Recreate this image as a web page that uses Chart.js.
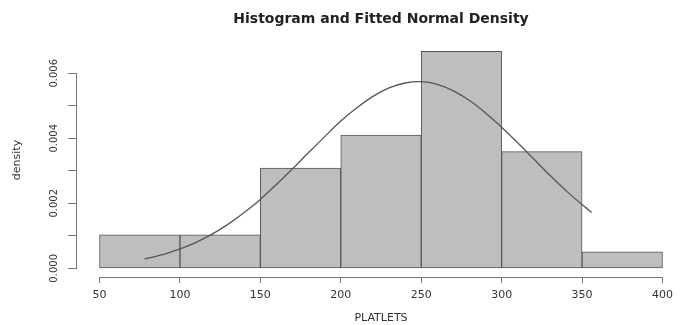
<!DOCTYPE html>
<html>
<head>
<meta charset="utf-8">
<script src="https://cdn.jsdelivr.net/npm/chart.js@4.4.1/dist/chart.umd.min.js"></script>
<style>
  html, body { margin: 0; padding: 0; background: #fff; }
</style>
</head>
<body>
<canvas id="histChart" width="686" height="325"></canvas>
<script>
// histogram bins (PLATLETS) and densities
const binMids = [75, 125, 175, 225, 275, 325, 375];
const densities = [0.00103, 0.00103, 0.00308, 0.0041, 0.00667, 0.00359, 0.00051];

// fitted normal density
const curveX = [78, 90, 100, 110, 120, 130, 140, 150, 160, 170, 180, 190, 200, 210, 220, 230,
  240, 250, 260, 270, 280, 290, 300, 310, 320, 330, 340, 350, 356];
const curveY = [0.00029, 0.00043, 0.0006, 0.0008, 0.00105, 0.00136, 0.00172, 0.00212, 0.00258,
  0.00306, 0.00356, 0.00405, 0.00453, 0.00494, 0.00529, 0.00555, 0.0057, 0.00574, 0.00566,
  0.00546, 0.00516, 0.00478, 0.00434, 0.00386, 0.00336, 0.00286, 0.00239, 0.00196, 0.00172];

const xTicks = [50, 100, 150, 200, 250, 300, 350, 400];
const yTicks = [0, 0.001, 0.002, 0.003, 0.004, 0.005, 0.006];
const yTickLabels = ["0.000", "0.002", "0.004", "0.006"];

const axisColor = "#777";
const textColor = "#333";

// R style axes: line only between first and last tick, rotated y labels
const rAxes = {
  id: "rAxes",
  afterDraw(chart) {
    const { ctx, chartArea } = chart;
    const x = chart.scales.x;
    const y = chart.scales.y;
    ctx.save();
    ctx.strokeStyle = axisColor;
    ctx.lineWidth = 1;
    ctx.beginPath();
    ctx.moveTo(x.getPixelForValue(xTicks[0]), chartArea.bottom + 0.5);
    ctx.lineTo(x.getPixelForValue(xTicks[xTicks.length - 1]), chartArea.bottom + 0.5);
    ctx.moveTo(chartArea.left - 0.5, y.getPixelForValue(yTicks[0]));
    ctx.lineTo(chartArea.left - 0.5, y.getPixelForValue(yTicks[yTicks.length - 1]));
    ctx.stroke();

    ctx.fillStyle = textColor;
    ctx.font = "10px 'DejaVu Sans'";
    ctx.textAlign = "center";
    ctx.textBaseline = "middle";
    yTickLabels.forEach((lab) => {
      ctx.save();
      ctx.translate(54, y.getPixelForValue(parseFloat(lab)));
      ctx.rotate(-Math.PI / 2);
      ctx.fillText(lab, 0, 0);
      ctx.restore();
    });
    ctx.restore();
  },
};

const ctx = document.getElementById("histChart").getContext("2d");

const histChart = new Chart(ctx, {
  type: "bar",
  data: {
    datasets: [
      {
        type: "line",
        data: curveX.map((v, i) => ({ x: v, y: curveY[i] })),
        borderColor: "#555",
        borderWidth: 1.3,
        pointRadius: 0,
        tension: 0.3,
        fill: false,
        order: 0,
      },
      {
        type: "bar",
        data: binMids.map((v, i) => ({ x: v, y: densities[i] })),
        backgroundColor: "#bebebe",
        borderColor: "#555",
        borderWidth: 1,
        borderSkipped: false,
        barPercentage: 1,
        categoryPercentage: 1,
        order: 1,
      },
    ],
  },
  options: {
    responsive: false,
    animation: false,
    layout: { padding: { left: 0, right: 1, top: 0, bottom: 0 } },
    plugins: {
      legend: { display: false },
      tooltip: { enabled: false },
      title: {
        display: true,
        fullSize: false,
        text: "Histogram and Fitted Normal Density",
        color: "#222",
        font: { family: "'DejaVu Sans'", size: 14, weight: "bold" },
        padding: { top: 11, bottom: 15.2 },
      },
    },
    scales: {
      x: {
        type: "linear",
        offset: false,
        min: 36,
        max: 414,
        afterBuildTicks: (s) => { s.ticks = xTicks.map((v) => ({ value: v })); },
        afterFit: (s) => { s.height = 48; },
        grid: { offset: false, drawOnChartArea: false, drawTicks: true, tickLength: 6, color: axisColor },
        border: { display: false },
        ticks: {
          color: textColor,
          padding: 6,
          maxRotation: 0,
          font: { family: "'DejaVu Sans'", size: 11 },
          callback: (v) => String(v),
        },
        title: {
          display: true,
          text: "PLATLETS",
          color: textColor,
          font: { family: "'DejaVu Sans'", size: 11 },
          padding: { top: 0, bottom: 0 },
        },
      },
      y: {
        type: "linear",
        min: -0.000267,
        max: 0.00693,
        afterBuildTicks: (s) => { s.ticks = yTicks.map((v) => ({ value: v })); },
        afterFit: (s) => { s.width = 77; },
        grid: { drawOnChartArea: false, drawTicks: true, tickLength: 9, color: axisColor },
        border: { display: false },
        ticks: { display: false },
        title: {
          display: true,
          text: "density",
          color: textColor,
          font: { family: "'DejaVu Sans'", size: 11 },
          padding: { top: 11, bottom: 0 },
        },
      },
    },
  },
  plugins: [rAxes],
});
</script>
</body>
</html>
